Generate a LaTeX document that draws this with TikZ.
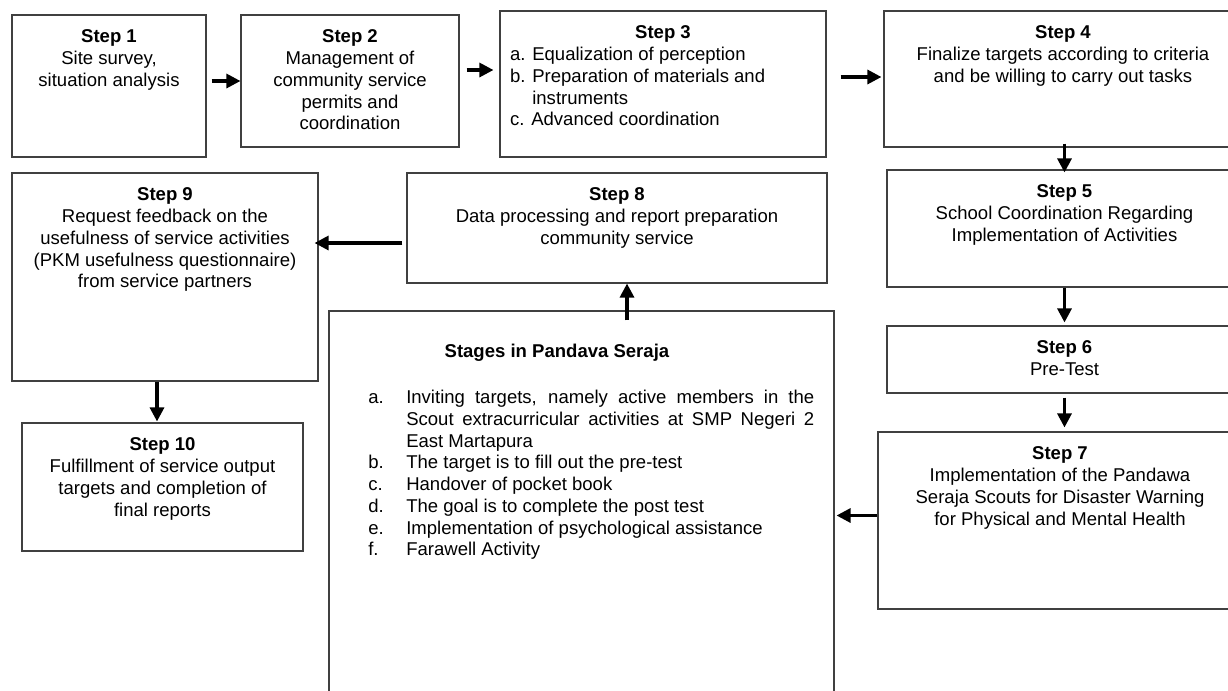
\documentclass[tikz,border=0pt]{standalone}
\usepackage{fontspec}
\setmainfont{Liberation Sans}
\usetikzlibrary{calc,positioning,fit,arrows.meta}
\tikzset{
stepbox/.style={
  draw=black!75,
  line width=0.85pt,
  inner sep=0pt
  },
steptext/.style={
  inner sep=0pt,
  align=center,
  font=\fontsize{13.9}{16.3}\selectfont
  },
flow/.style={
  line width=2.3pt,
  -{Triangle[length=10.5pt,width=10.5pt]}
  }
}
\newcommand{\stageitem}[2]{\noindent\hangindent=28.5pt\hangafter=1\makebox[28.5pt][l]{#1}#2\par}

\begin{document}
\begin{tikzpicture}[x=0.75pt,y=-0.75pt]
            \useasboundingbox (0,0) rectangle (1228,690);
            \clip (0,0) rectangle (1228,690);
            \node[stepbox, fit={(12,15) (206,157)}] (s1) {};
            \node[stepbox, fit={(241,15) (459,147)}] (s2) {};
            \node[stepbox, fit={(500,11) (826,157)}] (s3) {};
            \node[stepbox, fit={(884,11) (1242,147)}] (s4) {};
            \node[stepbox, fit={(887,170) (1242,287)}] (s5) {};
            \node[stepbox, fit={(887,326) (1242,393)}] (s6) {};
            \node[stepbox, fit={(878,432) (1242,609)}] (s7) {};
            \node[stepbox, fit={(329,311) (834,700)}] (stages) {};
            \node[stepbox, fit={(407,173) (827,283)}] (s8) {};
            \node[stepbox, fit={(12,173) (318,381)}] (s9) {};
            \node[stepbox, fit={(22,423) (303,551)}] (s10) {};

            \node[steptext, below=11.4pt of s1.north] (t1) {\textbf{Step 1}\\Site survey,\\situation analysis};
            \node[steptext, below=11.4pt of s2.north] (t2) {\textbf{Step 2}\\Management of\\community service\\permits and\\coordination};
            \node[steptext, below=11.4pt of s3.north] (t3) {\parbox{229.5pt}{\centering\textbf{Step 3}\par\raggedright
                a. Equalization of perception\\b. Preparation of materials and\\\phantom{b. }instruments\\c. Advanced coordination}};
            \node[steptext, below=11.4pt of s4.north] (t4) {\textbf{Step 4}\\Finalize targets according to criteria\\and be willing to carry out tasks};
            \node[steptext, below=11.4pt of s5.north] (t5) {\textbf{Step 5}\\School Coordination Regarding\\Implementation of Activities};
            \node[steptext, below=11.4pt of s6.north] (t6) {\textbf{Step 6}\\Pre-Test};
            \node[steptext, below=11.4pt of s7.north] (t7) {\textbf{Step 7}\\Implementation of the Pandawa\\Seraja Scouts for Disaster Warning\\for Physical and Mental Health};
            \node[steptext, below=11.4pt of s8.north] (t8) {\textbf{Step 8}\\Data processing and report preparation\\community service};
            \node[steptext, below=11.4pt of s9.north] (t9) {\textbf{Step 9}\\Request feedback on the\\usefulness of service activities\\(PKM usefulness questionnaire)\\from service partners};
            \node[steptext, below=11.4pt of s10.north] (t10) {\textbf{Step 10}\\Fulfillment of service output\\targets and completion of\\final reports};

            \node[steptext] (stitle) at (557,353) {\textbf{Stages in Pandava Seraja}};
            \node[steptext, anchor=north west] (slist) at (368,390) {\parbox{334.5pt}{\tolerance=9999\hyphenpenalty=10000
                \stageitem{a.}{Inviting targets, namely active members in the\linebreak Scout extracurricular activities at SMP Negeri 2\linebreak East Martapura}
                \stageitem{b.}{The target is to fill out the pre-test}
                \stageitem{c.}{Handover of pocket book}
                \stageitem{d.}{The goal is to complete the post test}
                \stageitem{e.}{Implementation of psychological assistance}
                \stageitem{f.}{Farawell Activity}}};

            \draw[flow] ($(s2.west -| s1.east)+(5,0)$) -- (s2.west);
            \draw[flow] ($(s2.east)+(7,-11)$) -- ($(s2.east -| s3.west)+(-6,-11)$);
            \draw[flow] ($(s3.east)+(14,-7)$) -- ($(s3.east -| s4.west)+(-2,-7)$);
            \draw[flow] ($(s4.south -| s5.north)+(0,-4)$) -- ($(s5.north)+(0,3)$);
            \draw[flow] (s5.south) -- ($(s6.north)+(0,-3)$);
            \draw[flow] ($(s6.south)+(0,4)$) -- ($(s7.north -| s6.south)+(0,-4)$);
            \draw[flow] ($(s7.west)+(0,-5)$) -- ($(s7.west -| stages.east)+(2,-5)$);
            \draw[flow] ($(stages.north -| s8.south)+(10,10)$) -- ($(s8.south)+(10,0)$);
            \draw[flow] ($(s8.west)+(-4,15)$) -- ($(s8.west -| s9.east)+(-4,15)$);
            \draw[flow] ($(s9.south)+(-8,0)$) -- ($(s10.north -| s9.south)+(-8,-1)$);
\end{tikzpicture}
\end{document}
